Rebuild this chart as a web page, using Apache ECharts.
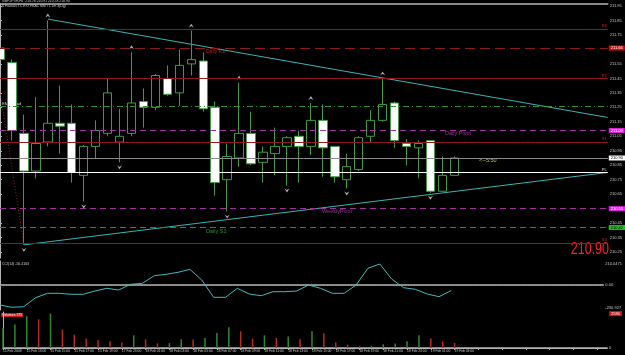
<!DOCTYPE html>
<html><head><meta charset="utf-8">
<script src="https://cdn.jsdelivr.net/npm/echarts@6/dist/echarts.min.js"></script>
<style>html,body{margin:0;padding:0;background:#000;}#c{width:625px;height:355px;}</style>
</head><body><div id="c"></div>
<script>
// ---- data ----
const timeLabels = ['15 Feb 2008','15 Feb 12:00','15 Feb 13:00','15 Feb 14:00','15 Feb 15:00','15 Feb 16:00','15 Feb 17:00','15 Feb 18:00','15 Feb 19:00','15 Feb 20:00',
  '17 Feb 23:00','18 Feb 00:00','18 Feb 01:00','18 Feb 02:00','18 Feb 03:00','18 Feb 04:00','18 Feb 05:00','18 Feb 06:00','18 Feb 07:00','18 Feb 08:00',
  '18 Feb 09:00','18 Feb 10:00','18 Feb 11:00','18 Feb 12:00','18 Feb 13:00','18 Feb 14:00','18 Feb 15:00','18 Feb 16:00','18 Feb 17:00','18 Feb 18:00',
  '18 Feb 19:00','18 Feb 20:00','18 Feb 21:00','18 Feb 22:00','18 Feb 23:00','19 Feb 00:00','19 Feb 01:00','19 Feb 02:00','19 Feb 03:00'];
const opens  = [211.66,211.56,211.07,210.81,211.01,211.14,211.14,210.78,210.98,211.07,211.01,211.07,211.29,211.25,211.45,211.35,211.55,211.57,211.25,210.75,210.90,211.07,210.87,210.93,210.98,211.05,210.98,211.16,210.98,210.75,210.82,211.05,211.16,211.28,211.00,210.97,211.02,210.67,210.78];
const closes = [211.58,211.09,210.81,211.00,211.14,211.12,210.80,210.98,211.09,211.35,211.05,211.28,211.25,211.47,211.34,211.54,211.58,211.24,210.73,210.91,211.07,210.86,210.94,210.98,211.04,210.98,211.16,210.97,210.77,210.84,211.04,211.16,211.27,211.02,210.98,211.00,210.67,210.78,210.90];
const lows   = [211.56,211.02,210.30,210.76,210.98,210.93,210.73,210.60,210.90,211.05,210.87,211.05,211.11,211.23,211.33,211.26,211.47,211.22,210.64,210.53,210.84,210.85,210.73,210.78,210.71,210.73,210.92,210.77,210.73,210.69,210.81,211.01,211.15,210.97,210.85,210.76,210.66,210.67,210.78];
const highs  = [211.68,211.58,211.20,211.32,211.85,211.40,211.27,210.99,211.16,211.45,211.24,211.63,211.38,211.48,211.54,211.65,211.78,211.63,211.29,211.00,211.42,211.22,210.98,211.11,211.05,211.09,211.28,211.27,210.98,210.93,211.05,211.23,211.45,211.29,211.03,211.02,211.02,210.91,210.91];
const volumes = [1500,1760,2380,2150,2580,1400,1005,705,580,500,405,950,650,350,360,650,640,750,1125,1550,1250,705,950,750,855,650,1250,1100,405,255,150,160,280,330,500,950,705,500,375];
const cci = [-200,-223,-217,-127,-83,-83,-93,-93,-60,-33,-50,7,17,93,107,127,157,50,-123,-123,-33,-90,-107,-67,-67,-60,0,-33,-83,-83,0,167,210,60,-27,-43,-90,-117,-56];
const upFractals = [4,11,16,20,26,32];
const downFractals = [2,7,10,19,24,29,36];
const priceTicks = [211.95,211.85,211.75,211.55,211.45,211.35,211.25,211.15,211.05,210.95,210.85,210.75,210.65,210.45,210.35,210.25];
const cciTicks = [210.0471, 0, -230.927];
const volTicks = [0, 2580];
const levelValues = [211.79,211.66,211.45,211.26,211.09,211.01,210.90,210.80,210.55,210.42,210.31];
const levelTags = ['R3','','R2','','','S1','','PL','','','S3'];
const upperTrend = [[4,211.86],[50.83,211.18]];
const lowerTrend = [[2,210.30],[50.83,210.80]];
const zigzag = [[0,211.36],[2,210.30]];

// ---- styling ----
const XMAX = 610/12;
const F = '"Liberation Sans", Arial, sans-serif';
const levelColor = ['#8e1b1b','#8e1b1b','#8e1b1b','#2f8f2f','#a030a0','#8e1b1b','#8a8a8a','#ffffff','#a030a0','#2f8f2f','#8e1b1b'];
const levelType = ['solid',[10,5],'solid',[6,3,1,3],[6,4],'solid','solid','solid',[6,4],[6,4],'solid'];
const levelBox = [null,{bg:'#d01010',fg:'#fff'},null,null,{bg:'#e020e0',fg:'#fff'},null,{bg:'#ffffff',fg:'#000'},null,{bg:'#e020e0',fg:'#fff'},{bg:'#20c020',fg:'#000'},null];

const markData = levelValues.map((v,i)=>{
  const item = {yAxis:v, lineStyle:{color:levelColor[i], type:levelType[i], width:1}};
  if (levelBox[i]) {
    item.label = {show:true, position:'end', distance:1, formatter:v.toFixed(2), backgroundColor:levelBox[i].bg, color:levelBox[i].fg, fontSize:4, fontFamily:F, padding:[1,2,0,2]};
  } else if (levelTags[i]) {
    item.label = {show:true, position:'insideEndTop', distance:1, formatter:levelTags[i], color:levelColor[i]==='#ffffff'?'#ddd':'#c03030', fontSize:4, fontFamily:F};
  } else item.label = {show:false};
  return item;
});

const upArrow = 'path://M0,10 L5,0 L10,10 L5,6 Z';
const downArrow = 'path://M0,0 L5,10 L10,0 L5,4 Z';
const gray = '#b4b4b4';
const lblColor = '#c8c8c8';

const xBase = {type:'value', min:0, max:XMAX, axisLabel:{show:false}, axisTick:{show:false}, splitLine:{show:false}};
const option = {
  backgroundColor:'#000', animation:false,
  grid:[
    {left:0, width:610, top:4, height:254},
    {left:0, width:610, top:261, height:49},
    {left:0, width:610, top:312, height:36}
  ],
  xAxis:[
    Object.assign({}, xBase, {gridIndex:0, position:'top', axisLine:{show:true, lineStyle:{color:gray, width:1.5}}}),
    Object.assign({}, xBase, {gridIndex:1, position:'top', axisLine:{show:true, lineStyle:{color:gray, width:1.5}}}),
    Object.assign({}, xBase, {gridIndex:2, position:'top', axisLine:{show:true, lineStyle:{color:gray, width:1.5}}}),
    {gridIndex:2, type:'value', min:0, max:XMAX, interval:2, position:'bottom',
     axisLine:{show:true, lineStyle:{color:gray, width:1}}, axisTick:{show:true, length:2, lineStyle:{color:gray}},
     splitLine:{show:false},
     axisLabel:{show:true, align:'left', fontSize:3.3, fontFamily:F, color:lblColor, margin:2, showMaxLabel:false,
       formatter:(v)=>{const i=Math.round(v); return (Math.abs(v-i)<1e-6 && timeLabels[i])?timeLabels[i]:'';}}}
  ],
  yAxis:[
    {gridIndex:0, type:'value', position:'right', min:210.209, max:211.964, scale:true,
     axisLine:{show:true, lineStyle:{color:gray}}, axisTick:{show:true, length:2, customValues:priceTicks, lineStyle:{color:gray}}, splitLine:{show:false},
     axisLabel:{customValues:priceTicks, fontSize:4, fontFamily:F, color:lblColor, margin:2, formatter:v=>v.toFixed(2)}},
    {gridIndex:1, type:'value', position:'right', min:-250, max:240,
     axisLine:{show:true, lineStyle:{color:gray}}, axisTick:{show:false}, splitLine:{show:false},
     axisLabel:{customValues:cciTicks, fontSize:4, fontFamily:F, color:lblColor, margin:2, formatter:v=>v===0?'0.00':String(v)}},
    {gridIndex:2, type:'value', position:'right', min:0, max:2700,
     axisLine:{show:true, lineStyle:{color:gray}}, axisTick:{show:false}, splitLine:{show:false},
     axisLabel:{customValues:volTicks, fontSize:4, fontFamily:F, color:lblColor, margin:2,
       formatter:v=>v>0?'{r|'+v+'}':'0', rich:{r:{backgroundColor:'#d01010', color:'#fff', fontSize:4, fontFamily:F, padding:[1,2,0,2]}}}}
  ],
  series:[
    {type:'candlestick', xAxisIndex:0, yAxisIndex:0, barWidth:9, clip:true,
     data: opens.map((o,i)=>[i,o,closes[i],lows[i],highs[i]]),
     encode:{x:0, y:[1,2,3,4]},
     itemStyle:{color:'#000', color0:'#ffffff', borderColor:'#3d9d3d', borderColor0:'#3d9d3d', borderWidth:1},
     markLine:{silent:true, symbol:['none','none'], animation:false, data:markData}, z:3},
    {type:'line', xAxisIndex:0, yAxisIndex:0, data:upperTrend, symbol:'none', lineStyle:{color:'#3bb3b3', width:1}, z:2},
    {type:'line', xAxisIndex:0, yAxisIndex:0, data:lowerTrend, symbol:'none', lineStyle:{color:'#3bb3b3', width:1}, z:2},
    {type:'line', xAxisIndex:0, yAxisIndex:0, data:zigzag, symbol:'none', lineStyle:{color:'#9b2020', width:1, type:[1,2]}, z:2},
    {type:'scatter', xAxisIndex:0, yAxisIndex:0, data:upFractals.map(i=>[i,highs[i]]), symbol:upArrow, symbolSize:[5,4], symbolOffset:[0,-5], itemStyle:{color:'#e0e0e0'}, z:4},
    {type:'scatter', xAxisIndex:0, yAxisIndex:0, data:downFractals.map(i=>[i,lows[i]]), symbol:downArrow, symbolSize:[5,4], symbolOffset:[0,5], itemStyle:{color:'#e0e0e0'}, z:4},
    {type:'line', xAxisIndex:1, yAxisIndex:1, data:cci.map((v,i)=>[i,v]), symbol:'none', lineStyle:{color:'#46b9b9', width:1},
     markLine:{silent:true, symbol:['none','none'], label:{show:false}, data:[{yAxis:0}], lineStyle:{color:'#9a9a9a', type:[1,2], width:1}}},
    {type:'bar', xAxisIndex:2, yAxisIndex:2, barWidth:1.5,
     data: volumes.map((v,i)=>({value:[i,v], itemStyle:{color:(i>0 && v<=volumes[i-1])?'#b52a2a':'#2f8a2f'}}))}
  ],
  graphic:[
    {type:'text', left:2, top:0, style:{text:'GBPJPYm,H1  210.78 210.91 210.78 210.90', fill:'#d0d0d0', font:'3.4px '+F}},
    {type:'text', left:2, top:5, style:{text:'$ Fractals TC EXTFRAC MM T1 1m 3(Dg)', fill:'#d0d0d0', font:'3.4px '+F}},
    {type:'text', left:2, top:102, style:{text:'EMA(5),ad', fill:'#d8d8d8', font:'4px '+F}},
    {type:'text', left:206, top:49, style:{text:'Daily R1', fill:'#b02020', font:'5px '+F}},
    {type:'text', left:445, top:130, style:{text:'Daily Pivot', fill:'#a030a0', font:'5.5px '+F}},
    {type:'text', left:322, top:208, style:{text:'WeeklyPivot', fill:'#a030a0', font:'5.5px '+F}},
    {type:'text', left:206, top:228, style:{text:'Daily S1', fill:'#2f8f2f', font:'5.5px '+F}},
    {type:'text', left:479, top:157, style:{text:'<--5:50', fill:'#c8c83a', font:'5.5px '+F}},
    {type:'text', right:16, top:242, scaleX:0.78, originX:609, style:{text:'210.90', fill:'#ff2020', font:'16px "Liberation Sans"'}},
    {type:'text', left:2, top:262, style:{text:'CCI(14) -56.4163', fill:'#d0d0d0', font:'3.5px '+F}},
    {type:'text', left:1, top:313, style:{text:'Volumes 375', fill:'#ffffff', font:'3.5px '+F, backgroundColor:'#c01818', padding:[0,1]}}
  ]
};
const chart = echarts.init(document.getElementById('c'));
chart.setOption(option);
</script></body></html>
